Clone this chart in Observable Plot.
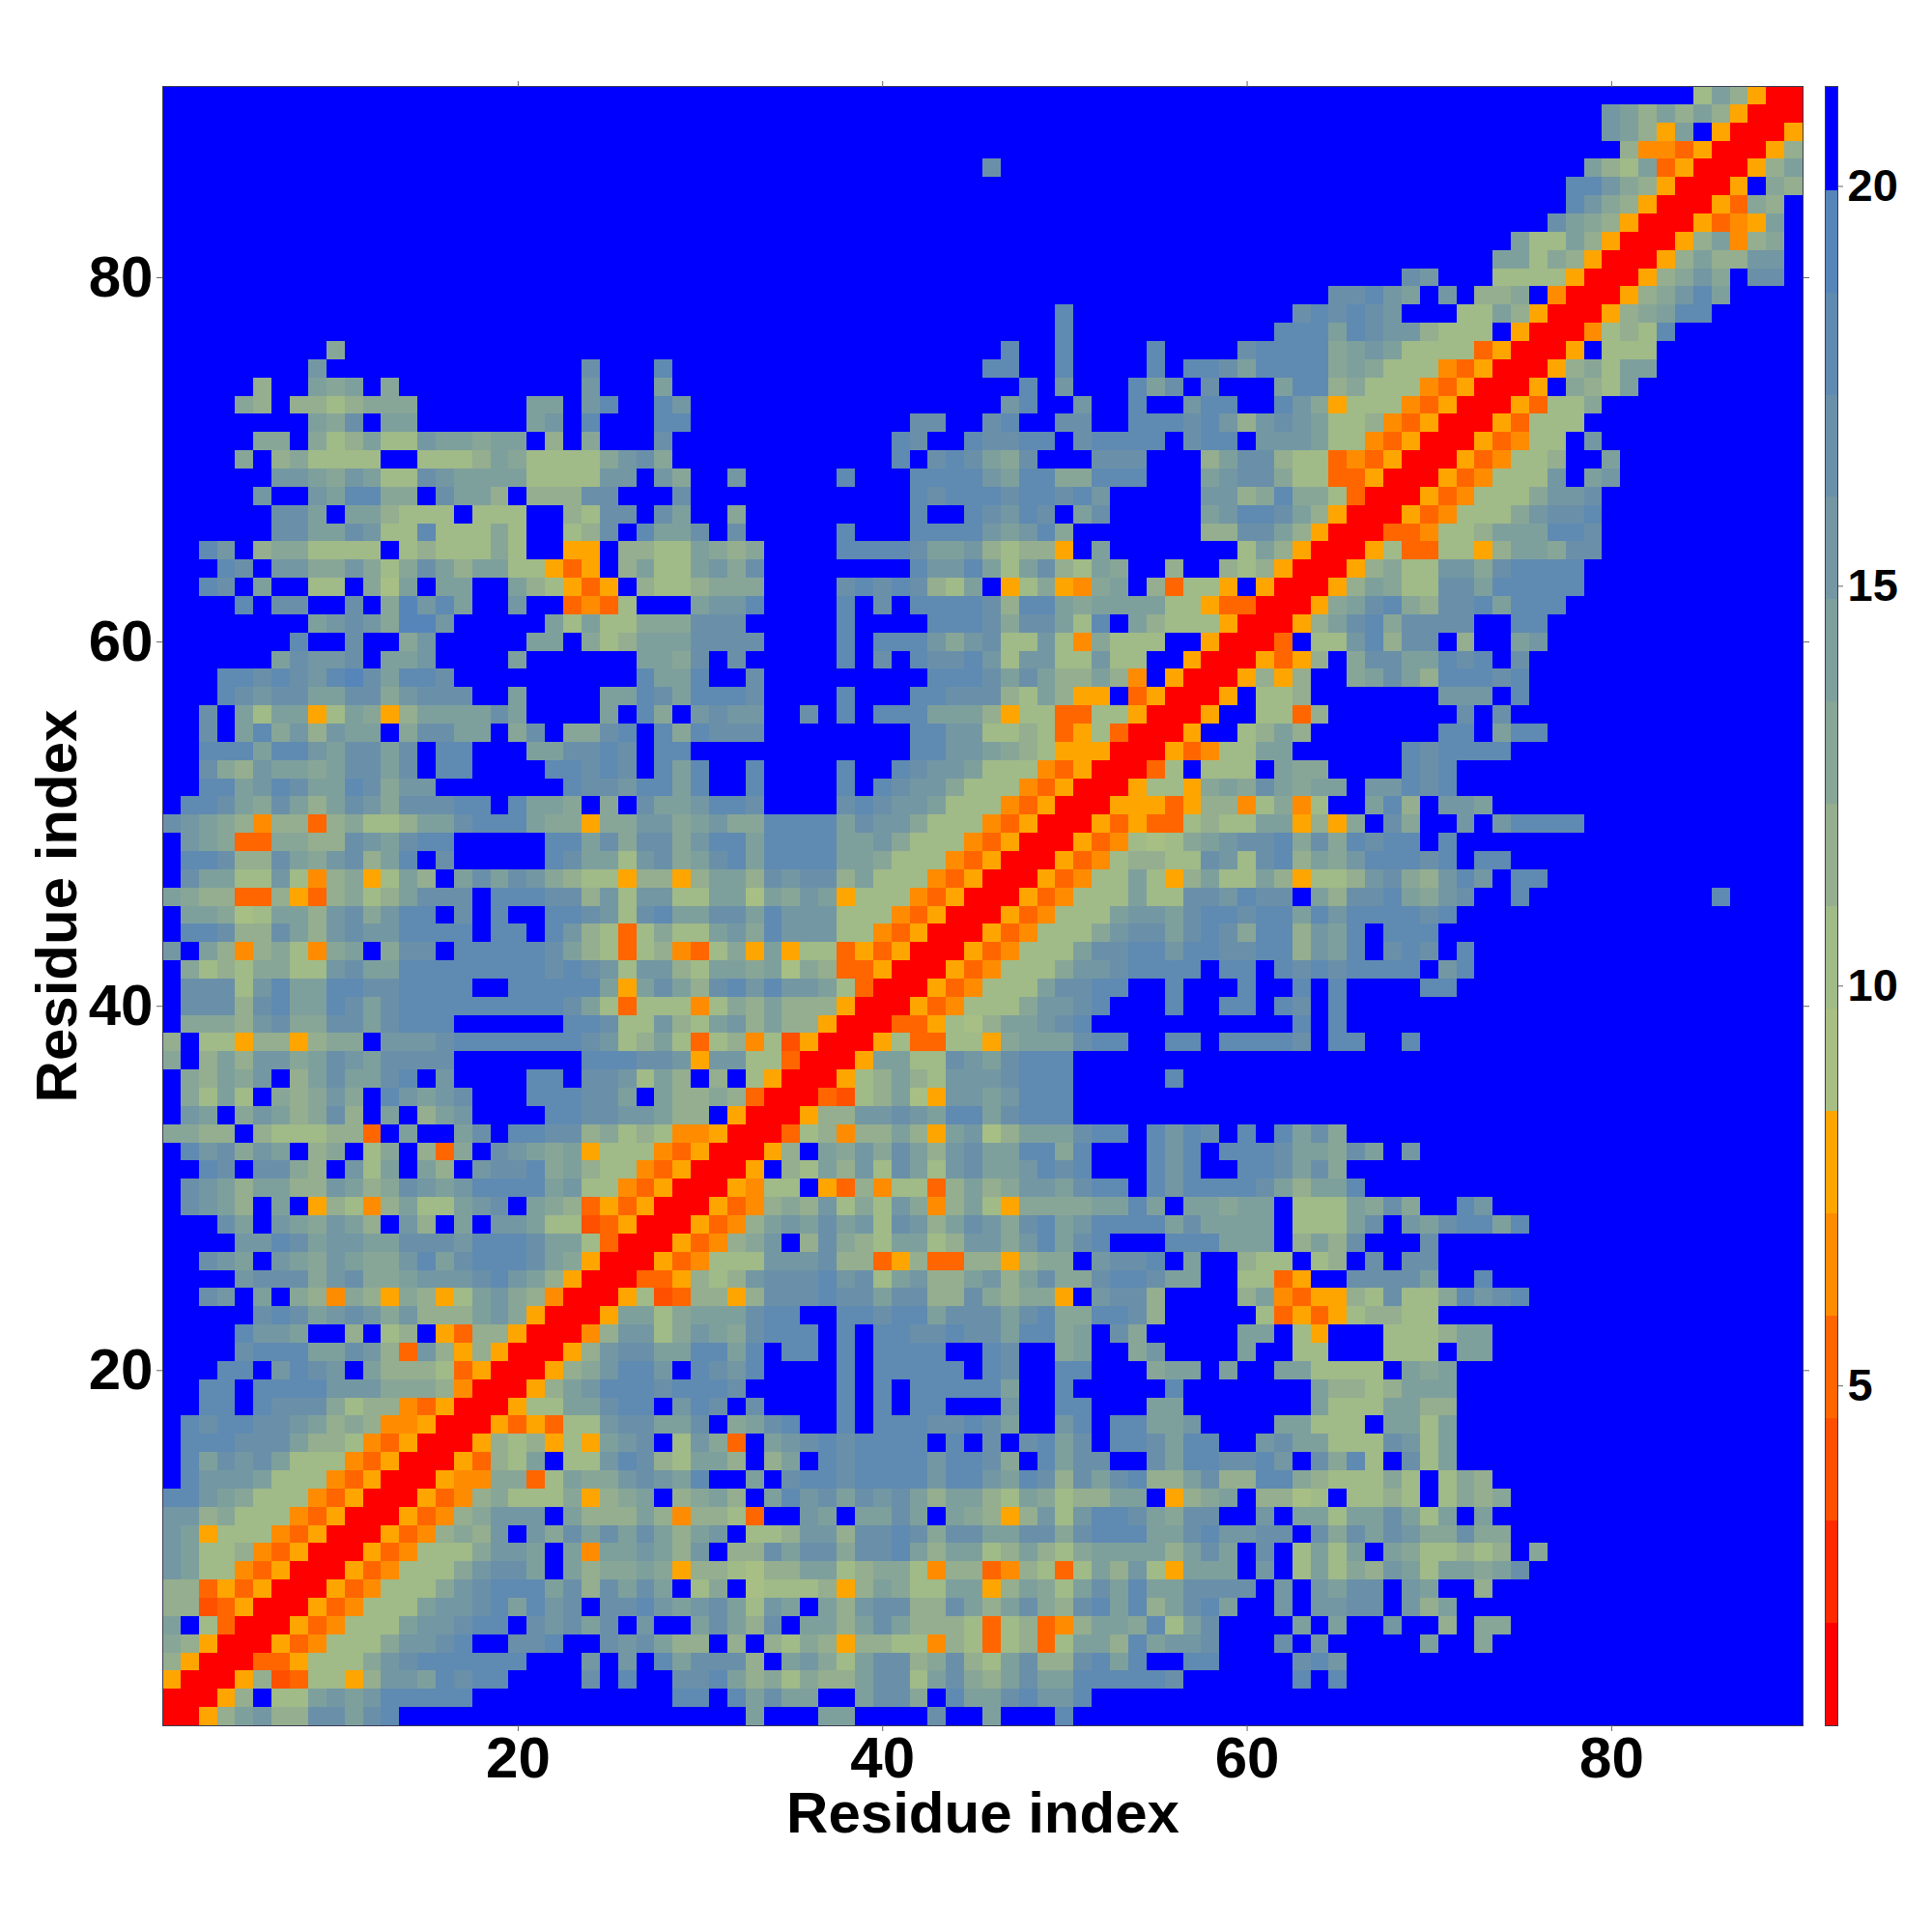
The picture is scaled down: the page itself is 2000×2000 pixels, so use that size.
<!DOCTYPE html>
<html>
<head>
<meta charset="utf-8">
<script src="https://cdn.jsdelivr.net/npm/d3@7"></script>
<script src="https://cdn.jsdelivr.net/npm/@observablehq/plot@0.6"></script>
<style>
html,body{margin:0;padding:0;background:#fff}
#wrap{position:relative;width:2000px;height:2000px}
#wrap svg{position:absolute;top:0}
</style>
</head>
<body>
<div id="wrap"></div>
<script>
const F = "ffffffffff";
const bandEdges = [0.75,2.03,3.31,4.59,5.87,7.15,8.43,9.71,10.99,12.27,13.55,14.83,16.11,17.39,18.67,19.95,21.25];
const bandColors = ["#ff0000","#ff2a00","#ff5000","#ff6600","#ff8c00","#ffa500","#a7bf84","#a0ba88","#94ae8f","#88a697","#7ea09d","#7397a3","#6a90a9","#5f8ab2","#5685ba","#0000ff"];
const axisTicks = [20,40,60,80];
const colorbarTicks = [5,10,15,20];
const axisTitle = "Residue index";

// Cell levels (index into bandColors, hex digit). Rows run top (residue 90) to bottom (residue 1).
const leftCols = [
F+F+F,F+F+F,F+F+F,F+F+F,F+F+F,F+F+F,F+F+F,F+F+F,F+F+F,F+F+F,F+F+F,F+F+F,F+F+F,F+F+F,
"fffffffff9 ffffffffff ffffffffff",
"ffffffffbf ffffffffff fffcfffdff",
"fffff8ffa9 af9fffffff fffbfffaff",
"ffff98f887 8999ffffff aafbdffdbf",
"ffffffffa9 cfaaffffff abfdfffddf",
"fffff99f97 8a77baa9aa f8f9fffcff",
"ffff9f8977 77ff7778a9 77779bc9ff",
"ffffffbba9 ba77cbaaaa 7777bbfb9f",
"fffffbffba dd99fcaa8f 888ccfffcf",
"ffffffccaf aa8777f777 ff87ccfcaf",
"ffffffccaa cb77d77797 ff78cfdaac",
"ffdbf89977 77f7877797 ff55f8877a",
"fffdcfbb99 b979ca8aa7 7535f8a77a",
"ffdcfaff77 f96afaaffa 87535f8778",
"ffffdfccff cf9ebdaffb ff3437fffa",
"ffffffffab cb9eebffff fa7a77999c",
"fffffffdff cff9bfffff aaf978aaac",
"ffffffacbb cfaabffffa ffffffaa9c",
"fffddcdcbd ecaddcffff ffffffdaad",
"fffdcbccaa cc9bcccffa ffffaadcad",
"ffcfa7aa57 a958aaaaca ffffafd9fb",
"ffcfad9b8b aaf9ccaaf9 cf99cdfd9d",
"ffdddaddba ccacfddfff aaccdcfddf",
"ffc98baa9a ccacfddfff fddcdcfdad",
"ffddabdcaa dc9bbfffff ffdccbddad",
"fddca9ca8a cb9cccddfd aa9f9fcaab",
"cba9848838 9778aacddd a99599bb9a",
"fba9339988 cbacddffff fddac9cc9b",
"fddc88ca9b c8adfcffff fdcaa7bc9a",
"fcaa77b748 957a8facac b987758858",
"a988338538 978acccfdd dcc8b7bb77",
"faa967aa8b c9bddfcfdf fddcb7cdaa",
"fddc88ca8b cbbddddfdd fdb8737977",
"bfa8489749 af9ccfdddd dca8737843",
"f97879977b caaddddddd dcdcb7bb87",
"fccc7bdaad dccddddffd dddda5aca8",
"fccc8cdaad cacddddddd ddca737774",
"f9998bc99c cacdddffff ffddc77b87",
"8f77588589 9fbbbcdddd dddcb78a73",
"9f8a8bb9ac baccccffff fffdddccb5",
"f98a9bf8ac aacdfbffff ddfccb7a8f",
"f97a7f989b 9fdbabcfff dddccafa88",
"fbaf9ba89c 8faf8abfff fddccbba88",
"9988f87778 83faffacfd dcc8978744",
"fdbc9baf89 f79f839fcb a9a5777435",
"ffdcfcc98f b7afa8fbcc d9a8774350",
"fcba8aa88b a89cbabddd dab7743500",
"fcba8faf58 748a77abcf a983535000",
"fffcafba9b a8fb8fafbb a772350005",
"ffffbbdcab baacccbddd caa7300053",
"ffcbafba9b a99bdacddd ca95000534",
"ffffbccc9b c99abbbcdb a850003358",
"ffcbfaf984 9859857ab9 8400057238",
"fffffcdcab cb9b888ab9 50005aa79a",
"ffffdbbaff 8f78f53885 00048bb79b",
"ffffcdddaa cb83b85850 0058bccaad",
"fffddfbdcb fa88873500 0589bddbfd",
"ffddfddddb bb99984000 58abdddcdd",
"ffddfdccc9 7884350005 77aacddfbd",
"fdcddccba8 9844500053 5377bccaac",
"fdddccca88 7435000587 8575abcf7b",
"fdacbca777 4350005387 af77bdc87a",
"fdbbba7774 3500054499 37a99bcbad",
"ddba977743 5000534897 779589af89",
"bb89777435 00053489bb bfa888a848",
"ba57774350 00534898bf b9cacaca8a",
"ba77843500 05347779bb afa4aaba8b",
"ba77435000 5347779bcc afa899a958",
"8835350005 347779bcdd dac8cacaf7",
"8823500053 4777abbcda dbcfccdbab",
"af73000534 777abbcddf cbcacfbffa",
"9850005347 779bbcdffc cdffcbca88",
"8500033577 79bcdddddd fffbfbfdac",
"5000582377 58bbadcddf fffcfdffcc",
"00058f77ab abdddddfff ffffffffdd",
"0058ab88cc acdfffffff ffffffffff"
];
const midCols = [
F+F+F,F+F+F,F+F+F,F+F+F,
"ffffffffff fffffcffff ffffffffff",
F+F+F,F+F+F,F+F+F,F+F+F,F+F+F,F+F+F,F+F+F,
"ffffffffff fffffffffd ffffffffff",
"ffffffffff fffffffffd ffffffffff",
"ffffffffff ffffffdffd ffffdffffc",
"ffffffffff fffffddffd ffffdfddca",
"ffffffffff fffffffdfb fffdacfcff",
"ffffffffff ffffffbdff bffdffbddf",
"ffffffffff fccffcdffc cffdddcdb8",
"ffffffffff dcffdccddf cddddfcddf",
"ffffffffff dfcdca9cff fcccfff8ac",
"fbfffffdff fddddbadd9 9dddfffabc",
"ffffffffff fdcdddcddc dbfffffbb8",
"f9ffffffff fdffdcbdcf acfffffabd",
"fcfffffdff fddddbabd9 fffffff88c",
"989ffffddd dcaab87885 fafffffff7",
"b9cfffffff fdbbda7ac8 7a9ff8ff87",
"999ffffcdc dc87af5795 49af83775f",
"bbdffffdfc fddddc8dda 9aaaa77533",
"ccfffffdff ffdddc9cca 7dfa877750",
"cccffffdfd ddb9bc77b7 49777ff500",
"fcfffffdfc fdccdb7bb7 7b77ff5000",
"ffcfffffff ffdddcaca8 8a84f50005",
"ddcffffdff fddccc87a8 55f350005f",
"cbbffcfdfd ddaaa85773 37750005ff",
"cccfffffff fddbb77873 5730005ff7",
"ffffffffff fddbba9875 5500053477",
"ffdffffdff dcbba77743 500037f777",
"ffdffffdfd cbb9777435 00057759a9",
"ddcffffcdc bba7774350 0055535884",
"b99ddddacb b977743500 0535337877",
"ddaddddaab 9777435000 5347679abc",
"cdaddddaa9 7774350005 3478877cb7",
"aa8cbcc8a7 7743500053 477a758a77",
"aa6a9ba577 7435000534 777a77ccbd",
"ccadbbb777 4350005347 77abbacddc",
"ab9dbbb774 3500053477 79bccacdc9",
"795a577353 5000534777 accddbddcc",
"aa9a698335 0005347779 bbcddddfdd",
"cdbdbba730 00534777ac cddffdfffd",
"798a888500 05347779bb cdfffdffdd",
"ab8a885000 335768aabc dfffffffff",
"7847250005 7337759aaa cddffddfdd",
"bb7730005a a77cbacddd ffffffffff",
"8f75000578 a87bbbcddd fffffdffff",
"9830003278 a65bbabddd ffffffffff",
"f5000588bb cbaddacddd ffffffffff",
"5000378488 a85ab68aaa cddfdbdcfd",
"00058fa9b9 ca8bcaadd9 dfffdbdfdd",
"005f87a8b7 ca7bcaabdc dfffdbdffd",
"05477f5384 7738a89bba cddfdbdddd",
"534898b797 b948a75999 9aadafaa9a",
"348abacab7 cb8acb9cda bddddacaaa",
"489bf8c987 aa78bb9bda cdfffdddaa",
"777bbbc883 5833885899 fbccdfaff8",
"78bcccdbc7 ab88ab8ac9 9cddcaaff7",
"858cccdcca cc88c98995 fbcc8ffff8",
"aacddffddc ddacccacd9 9ddc8fffff",
"a9cdddfdfd dccdccadd9 afc9fffffa",
"dadfddfdfd dddffdcff9 aff9bffffa",
"cbdffffdfd ddddfdcffd dfff9aafaf",
"dcfffffdfd fdddddaffd fffffdffff",
"cfcffffdfd fddfffbffd dfffaaffff",
"f9acdffdfd ddccdcaffb dfddaabfff",
"93fabcdcdd ddfdfcfcda cfddcaddff",
"a8f8afdcdd ddbddc9fda ccffcaddcc",
"ffafcddcdd ddbddbadc8 cacd88ac88",
"a8fadbcacb ca8aa87a97 88aaf589af",
"873ffbafaa cafa9858b7 bddca9ccff",
"bf778bb8cc dc9ccaacc9 cdddaacdbb",
"f88cacc9cc da8aa78a87 9aaaa8acaf",
"87688aa789 9748834873 7a8b75aaaf",
"9f6777858a 977aa58a97 acadaacccc",
"ca7bafa8bc c88ca8ac98 cdad8acdaf",
"ca8cfaa8ac a888737834 8aa9d7acff",
"f8f8798588 7748737837 aa8dabbcff",
"cc8fab97ac c89c87ac88 cdadffddff",
"da897988ac c7ac98acaa dddddcffff",
"fdacaaffac c9fdaacdbb dfffffffff",
"ffafffaaff ffcffafffd ffffffffff"
];
const rightCols = [
"ffffffffff ffffffffff ffff7a8500",
"ffffffffff fffffffffb a8a8a85000",
"ffffffffff fffffffffb a85af50005",
"ffffffffff ffffffffff 8443500058",
"ffffffffff ffffffffa8 7a3500058a",
"ffffffffff fffffffddb 9850005f98",
"ffffffffff fffffffdb9 850005398f",
"ffffffffff ffffffca98 50005345af",
"ffffffffff ffffa77a85 00058a489f",
"ffffffffff fffaa79850 0058a88bbf",
"ffffffffcb fff7777500 0589b9fccf",
"ffffccdbaf bf889f4000 589bdaffff",
"ffcdcdcbff f77a850005 89addfffff",
"fdddadcbb8 777f500047 87dfffffff",
"dddd9aba77 77350005f7 77ffffffff",
"dddd9a9777 4350005897 aaffffffff",
"fadd897774 350005f987 afffffffff",
"fdb9577743 500053779f ffffffffff",
"bcba778435 00053777ff ffffffffff",
"bbba774350 0053477fbf ffffffffff",
"c877343500 0534778ffa ffffffffff",
"c977335000 534777bfab ffffffffff",
"9d99730005 347779bbcf ffffffffff",
"dca8500053 47779bccdf ffffffffff",
"ca85000334 778aaaddcf ffffffffff",
"a850005733 7758aa9ccf ffffffffff",
"8500058977 bb9cddddff ffffffffff",
"500058a977 ccadddddff ffffffffff",
"00059acd98 ccdadddfff ffffffffff",
"0058acd9cc ccffddffff ffffffffff",
"03f77bd8cc f8ffabffff ffffffffff",
"5358f9ccaa dcdfcfffff ffffffffff",
"858ff9aca8 dddcdfffff ffffffffff",
"778fffffff bbbfdfffff ffffffffff",
"7738ffffff fcfcffffff ffffffffff",
"8a8fffffff ddfaddffff ffffffffff",
"aaffffffdc ddddffffff ffffffffff",
"fa99ffffdc dfffffffff ffffffffff",
"ca9aafbbdc dfffffffff ffffffffff",
"7947ffad8f bbafffffff ffffffffff",
"aa5859fc9f fbfbddddff ffffffffff",
"cd9c9dcddf dfffffffff ffffffffff",
"cd8a9bdddc dfddffffff ffffffffff",
"a85778bc98 bdbfddffff ffffffffff",
"ccfa8ccda9 bcffdfffff fffffdffff",
"ddadbddddc dfffffffff ffffffffff",
"dd8badfddd ffffffffff ffffffffff",
"dd8badfcdc fdffffffff ffffffffff",
"fdcdcddddf bdffffffff ffffffffff",
"ffdfdffffd dfffffffff ffffffffff",
"fdcfdfffff ffffffffff ffffffffff",
"ffdfdfffff ffffffffff ffffffffff",
"ddcfddffdf ffffffffff ffffffffff",
F+F+F,F+F+F,F+F+F,F+F+F,
"fdac9fffff ffffffffff ffffffffff",
"dcaa9cafbf ffffffffff ffffffffff",
"dcac9fffff ffffffffff ffffffffff",
"ca8aadffff ffffffffff ffffffffff",
"af777a9c9f fdbfffffff ffffffffff",
"af777acfba cddadfffff ffffffffff",
"af8a8cfffc ffffffffff ffffffffff",
"77f78fcfcc ffffffffff ffffffffff",
"735ffcccca ffdfffffff ffffffffff",
"a435587c77 9dbcdfffff ffffffffff",
"7353578877 ffffffffff ffffffffff",
"af75fff777 8aafffffff ffffffffff",
"ff77fff777 faafffffff ffffffffff",
"faa7777fa9 afffffffff ffffffffff",
"fffa8878aa afffffffff ffffffffff",
"fffa777aa8 8fffffffff ffffffffff",
"faa777faa7 afffffffff ffffffffff",
"bcaa777cb7 afffffffff ffffffffff",
"dbfc9d7fc7 afffffffff ffffffffff",
"dd9877797f 798fffffff ffffffffff",
"8867f7787f 7989ffffff ffffffffff",
"bfaa7aaca7 afafffffff ffffffffff",
"ccfc9cacb9 9c99ffffff ffffffffff",
"cf7a7afa97 7878f9ffff ffffffffff",
"bf7a798ba7 aa9acfffff ffffffffff",
"fbfbaccfba ff8fffffff ffffffffff",
"fbfbbccfb8 afffffffff ffffffffff",
"ffafaffbff 8f99ffffff ffffffffff",
"fcfbfffffa ff9fffffff ffffffffff",
"ffcdbfffff ffffffffff ffffffffff",
"ffdfdfffff ffffffffff ffffffffff",
F+F+F,F+F+F
];

const clean = s => s.replace(/ /g,"");
const cells = [];
for (let t = 0; t < 90; t++) {
  const row = clean(leftCols[t]) + clean(midCols[t]) + clean(rightCols[t]);
  if (row.length !== 90) console.error("row", t, row.length);
  for (let c = 0; c < 90; c++) {
    const k = parseInt(row[c] ?? "f", 16);
    cells.push({x: c + 1, y: 90 - t, v: (bandEdges[k] + bandEdges[k + 1]) / 2});
  }
}
const fontFamily = "'Liberation Sans', Arial, sans-serif";
const colorScale = {type: "threshold", domain: bandEdges.slice(1, -1), range: bandColors};

const main = Plot.plot({
  width: 2000, height: 2000,
  marginLeft: 168, marginRight: 134, marginTop: 89, marginBottom: 214,
  style: {fontFamily, background: "transparent", color: "#000"},
  x: {domain: [0.5, 90.5], label: null},
  y: {domain: [0.5, 90.5], label: null},
  color: colorScale,
  marks: [
    Plot.rect(cells, {x1: d => d.x - 0.5, x2: d => d.x + 0.5, y1: d => d.y - 0.5, y2: d => d.y + 0.5, fill: "v", shapeRendering: "crispEdges"}),
    Plot.frame({stroke: "#3c3c50", strokeWidth: 1}),
    Plot.axisX({anchor: "bottom", ticks: axisTicks, tickSize: 6, stroke: "#666", tickFormat: () => "", label: null}),
    Plot.axisX({anchor: "top", ticks: axisTicks, tickSize: 6, stroke: "#666", tickFormat: () => "", label: null}),
    Plot.axisY({anchor: "left", ticks: axisTicks, tickSize: 6, stroke: "#666", tickFormat: () => "", label: null}),
    Plot.axisY({anchor: "right", ticks: axisTicks, tickSize: 6, stroke: "#666", tickFormat: () => "", label: null}),
    Plot.axisX({anchor: "bottom", ticks: axisTicks, tickSize: 0, tickPadding: 11, fontSize: 60, fontWeight: "bold", label: null}),
    Plot.axisY({anchor: "left", ticks: axisTicks, tickSize: 0, tickPadding: 10, fontSize: 60, fontWeight: "bold", label: null}),
    Plot.text([axisTitle], {frameAnchor: "bottom", dy: 110, fontSize: 60, fontWeight: "bold"}),
    Plot.text([axisTitle], {frameAnchor: "left", dx: -109, rotate: -90, textAnchor: "middle", fontSize: 60, fontWeight: "bold"})
  ]
});
main.style.left = "0px";

const bands = bandColors.map((c, i) => ({lo: bandEdges[i], hi: bandEdges[i + 1], v: (bandEdges[i] + bandEdges[i + 1]) / 2}));
const bar = Plot.plot({
  width: 120, height: 2000,
  marginLeft: 9, marginRight: 98, marginTop: 89, marginBottom: 214,
  style: {fontFamily, background: "transparent", color: "#000"},
  x: {domain: [0, 1], axis: null},
  y: {domain: [0.75, 21.25], label: null, axis: null},
  color: colorScale,
  marks: [
    Plot.rect(bands, {x1: 0, x2: 1, y1: "lo", y2: "hi", fill: "v", shapeRendering: "crispEdges"}),
    Plot.frame({stroke: "#3c3c50", strokeWidth: 1}),
    Plot.axisY({anchor: "right", ticks: colorbarTicks, tickSize: 5, stroke: "#666", tickFormat: () => "", label: null}),
    Plot.axisY({anchor: "right", ticks: colorbarTicks, tickSize: 0, tickPadding: 10, fontSize: 47, fontWeight: "bold", label: null})
  ]
});
bar.style.left = "1880px";
document.getElementById("wrap").append(main, bar);
</script>
</body>
</html>
